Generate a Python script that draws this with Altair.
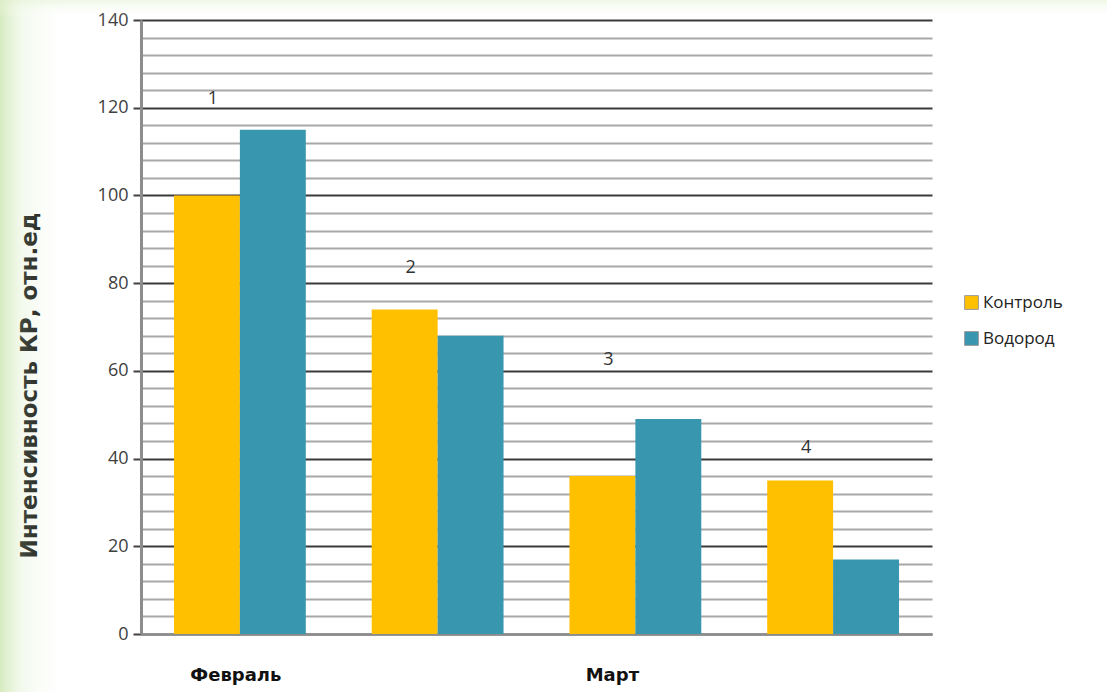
import json
import altair as alt
import pandas as pd

groups = ["1", "2", "3", "4"]
series = ["Контроль", "Водород"]
control_vals = [100, 74, 36, 35]
hydrogen_vals = [115, 68, 49, 17]
group_label_y = [122, 83.5, 62.5, 42.5]
month_names = ["Февраль", "", "Март", ""]
y_ticks = list(range(0, 141, 4))
colors = ["#FFC000", "#3896AF"]

rows = []
for g, c, h in zip(groups, control_vals, hydrogen_vals):
    rows.append({"group": g, "series": series[0], "value": c})
    rows.append({"group": g, "series": series[1], "value": h})
bars_df = pd.DataFrame(rows)
labels_df = pd.DataFrame({"group": groups, "value": group_label_y, "text": groups})

month_map = json.dumps({g: m for g, m in zip(groups, month_names)}, ensure_ascii=False)

xscale = alt.Scale(domain=groups, paddingInner=0.3333, paddingOuter=0.1667)
yscale = alt.Scale(domain=[0, 140], nice=False, zero=True)

x_axis = alt.Axis(
    title=None,
    labelExpr=f"{month_map}[datum.value] || ''",
    labelFont="DejaVu Sans",
    labelFontWeight="bold",
    labelFontSize=18,
    labelColor="#111111",
    labelPadding=32,
    labelAngle=0,
    labelOffset={"condition": {"test": "datum.value === '3'", "value": -23}, "value": -4},
    ticks=False,
    domainColor="#8c8c8c",
    domainWidth=2,
)

y_axis = alt.Axis(
    title="Интенсивность КР, отн.ед",
    titleFont="DejaVu Sans",
    titleFontWeight="bold",
    titleFontSize=23,
    titleColor="#000000",
    titleX=-112,
    titleY=365,
    titleAngle=270,
    titleAlign="center",
    titleBaseline="middle",
    values=y_ticks,
    labelExpr="datum.value % 20 === 0 ? datum.label : ''",
    labelOverlap=False,
    labelFont="Open Sans",
    labelFontSize=18,
    labelColor="#404040",
    labelPadding=5,
    tickSize=8,
    tickWidth=2,
    tickColor="#404040",
    tickOpacity={"condition": {"test": "datum.value % 20 === 0", "value": 1}, "value": 0},
    grid=True,
    gridWidth=2,
    gridColor={"condition": {"test": "datum.value % 20 === 0", "value": "#3a3a3a"}, "value": "#a8a8a8"},
    domainColor="#8c8c8c",
    domainWidth=3,
)

bg_left = alt.Chart(pd.DataFrame({"k": [0]})).mark_rect(
    fill=alt.LinearGradient(
        gradient="linear",
        stops=[
            alt.GradientStop(color="rgba(200,228,170,0.75)", offset=0),
            alt.GradientStop(color="rgba(215,236,195,0.3)", offset=0.3),
            alt.GradientStop(color="rgba(255,255,255,0)", offset=1),
        ],
        x1=0, x2=1, y1=0, y2=0,
    ),
    clip=False,
).encode(x=alt.value(-141), x2=alt.value(-70), y=alt.value(-20), y2=alt.value(672))

bg_top = alt.Chart(pd.DataFrame({"k": [0]})).mark_rect(
    fill=alt.LinearGradient(
        gradient="linear",
        stops=[
            alt.GradientStop(color="rgba(225,240,205,0.5)", offset=0),
            alt.GradientStop(color="rgba(255,255,255,0)", offset=1),
        ],
        x1=0, x2=0, y1=0, y2=1,
    ),
    clip=False,
).encode(x=alt.value(-141), x2=alt.value(966), y=alt.value(-20), y2=alt.value(-2))

bars = alt.Chart(bars_df).mark_bar().encode(
    x=alt.X("group:N", scale=xscale, axis=x_axis, sort=groups),
    xOffset=alt.XOffset("series:N", scale=alt.Scale(domain=series, paddingInner=0, paddingOuter=0), sort=series),
    y=alt.Y("value:Q", scale=yscale, axis=y_axis),
    color=alt.Color(
        "series:N",
        scale=alt.Scale(domain=series, range=colors),
        legend=alt.Legend(
            title=None,
            orient="none",
            legendX=822,
            legendY=274,
            symbolType="square",
            symbolSize=190,
            symbolStrokeColor="#9a9a9a",
            symbolStrokeWidth=1,
            labelFont="Open Sans",
            labelFontSize=17,
            labelColor="#222222",
            labelOffset=3,
            rowPadding=17,
        ),
    ),
)

texts = alt.Chart(labels_df).mark_text(
    font="Open Sans", fontSize=18, color="#333333", dx=-27, baseline="middle"
).encode(
    x=alt.X("group:N", scale=xscale, sort=groups, axis=x_axis),
    y=alt.Y("value:Q", scale=yscale, axis=y_axis),
    text="text:N",
)

chart = alt.layer(bg_left, bg_top, bars, texts).properties(
    width=791,
    height=614,
    autosize=alt.AutoSizeParams(type="none"),
    padding={"left": 141, "top": 20, "right": 175, "bottom": 58},
    background="#ffffff",
).configure_view(stroke=None)

chart.save("out.html", embed_options={"renderer": "svg", "actions": False})
